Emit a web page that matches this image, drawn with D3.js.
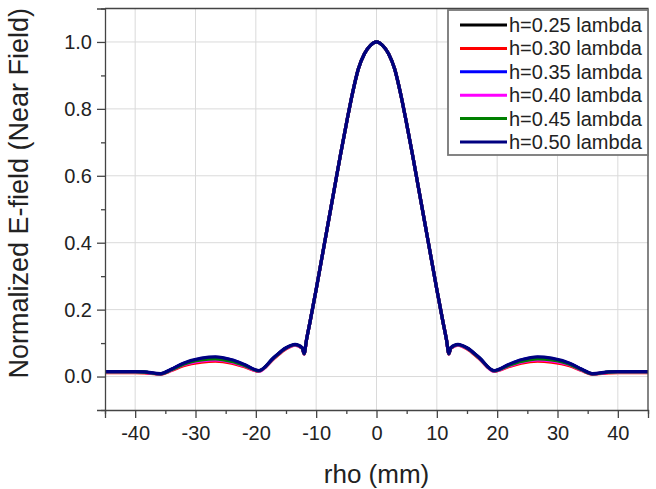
<!DOCTYPE html>
<html>
<head>
<meta charset="utf-8">
<script src="https://cdn.jsdelivr.net/npm/d3@7"></script>
<style>
  body { margin: 0; background: #fff; }
  text { font-family: Arial, "Liberation Sans", sans-serif; fill: #222; }
</style>
</head>
<body>
<div id="chart"></div>
<script>
// rho (mm) sample positions shared by all curves
const rho = [-45, -40, -38.5, -35.8, -34, -32, -29, -26.7, -24, -22, -19.5, -17, -15, -13.5, -12.3, -12, -11.6, -11,
  -10, -9, -8, -7, -6, -5, -4, -3, -2, -1, 0, 1, 2, 3, 4, 5, 6, 7, 8, 9, 10,
  11, 11.6, 12, 12.3, 13.5, 15, 17, 19.5, 22, 24, 26.7, 29, 32, 34, 35.8, 38.5, 40, 45];

const h025 = [0.014, 0.014, 0.013, 0.008, 0.021, 0.038, 0.052, 0.055, 0.047, 0.035, 0.017, 0.056, 0.085, 0.095, 0.085, 0.068, 0.11, 0.165,
  0.26, 0.36, 0.46, 0.56, 0.66, 0.755, 0.845, 0.92, 0.965, 0.99, 1.0, 0.99, 0.965, 0.92, 0.845, 0.755, 0.66, 0.56, 0.46, 0.36, 0.26,
  0.165, 0.11, 0.068, 0.085, 0.095, 0.085, 0.056, 0.017, 0.035, 0.047, 0.055, 0.052, 0.038, 0.021, 0.008, 0.013, 0.014, 0.014];
const h030 = [0.012, 0.012, 0.011, 0.007, 0.018, 0.032, 0.043, 0.046, 0.040, 0.030, 0.016, 0.054, 0.083, 0.094, 0.084, 0.067, 0.11, 0.165,
  0.26, 0.36, 0.46, 0.56, 0.66, 0.755, 0.845, 0.92, 0.965, 0.99, 1.0, 0.99, 0.965, 0.92, 0.845, 0.755, 0.66, 0.56, 0.46, 0.36, 0.26,
  0.165, 0.11, 0.067, 0.084, 0.094, 0.083, 0.054, 0.016, 0.030, 0.040, 0.046, 0.043, 0.032, 0.018, 0.007, 0.011, 0.012, 0.012];
const h035 = [0.014, 0.014, 0.013, 0.008, 0.022, 0.039, 0.054, 0.057, 0.049, 0.036, 0.017, 0.057, 0.085, 0.095, 0.085, 0.068, 0.11, 0.165,
  0.26, 0.36, 0.46, 0.56, 0.66, 0.755, 0.845, 0.92, 0.965, 0.99, 1.0, 0.99, 0.965, 0.92, 0.845, 0.755, 0.66, 0.56, 0.46, 0.36, 0.26,
  0.165, 0.11, 0.068, 0.085, 0.095, 0.085, 0.057, 0.017, 0.036, 0.049, 0.057, 0.054, 0.039, 0.022, 0.008, 0.013, 0.014, 0.014];
const h040 = [0.013, 0.013, 0.012, 0.008, 0.019, 0.035, 0.047, 0.050, 0.043, 0.032, 0.016, 0.055, 0.084, 0.094, 0.084, 0.067, 0.11, 0.165,
  0.26, 0.36, 0.46, 0.56, 0.66, 0.755, 0.845, 0.92, 0.965, 0.99, 1.0, 0.99, 0.965, 0.92, 0.845, 0.755, 0.66, 0.56, 0.46, 0.36, 0.26,
  0.165, 0.11, 0.067, 0.084, 0.094, 0.084, 0.055, 0.016, 0.032, 0.043, 0.050, 0.047, 0.035, 0.019, 0.008, 0.012, 0.013, 0.013];
const h045 = [0.014, 0.014, 0.013, 0.008, 0.020, 0.037, 0.050, 0.053, 0.045, 0.034, 0.017, 0.056, 0.085, 0.095, 0.085, 0.068, 0.11, 0.165,
  0.26, 0.36, 0.46, 0.56, 0.66, 0.755, 0.845, 0.92, 0.965, 0.99, 1.0, 0.99, 0.965, 0.92, 0.845, 0.755, 0.66, 0.56, 0.46, 0.36, 0.26,
  0.165, 0.11, 0.068, 0.085, 0.095, 0.085, 0.056, 0.017, 0.034, 0.045, 0.053, 0.050, 0.037, 0.020, 0.008, 0.013, 0.014, 0.014];
const h050 = [0.015, 0.015, 0.014, 0.009, 0.022, 0.040, 0.055, 0.059, 0.050, 0.037, 0.018, 0.057, 0.086, 0.096, 0.086, 0.069, 0.11, 0.165,
  0.26, 0.36, 0.46, 0.56, 0.66, 0.755, 0.845, 0.92, 0.965, 0.99, 1.0, 0.99, 0.965, 0.92, 0.845, 0.755, 0.66, 0.56, 0.46, 0.36, 0.26,
  0.165, 0.11, 0.069, 0.086, 0.096, 0.086, 0.057, 0.018, 0.037, 0.050, 0.059, 0.055, 0.040, 0.022, 0.009, 0.014, 0.015, 0.015];

const seriesNames = ["h=0.25 lambda", "h=0.30 lambda", "h=0.35 lambda", "h=0.40 lambda", "h=0.45 lambda", "h=0.50 lambda"];
const seriesValues = [h025, h030, h035, h040, h045, h050];
const seriesColors = ["#000000", "#ff0000", "#0000ff", "#ff00ff", "#008000", "#000080"];

const xTicks = [-40, -30, -20, -10, 0, 10, 20, 30, 40];
const xMinor = [-45, -35, -25, -15, -5, 5, 15, 25, 35, 45];
const yTicks = [0.0, 0.2, 0.4, 0.6, 0.8, 1.0];
const yMinor = [-0.1, 0.1, 0.3, 0.5, 0.7, 0.9, 1.1];

const W = 656, H = 489;
const plot = { left: 105, right: 648, top: 8.5, bottom: 410 };

const svg = d3.select("#chart").append("svg")
  .attr("width", W).attr("height", H);

const x = d3.scaleLinear().domain([-45, 45]).range([plot.left, plot.right]);
const y = d3.scaleLinear().domain([-0.1, 1.1]).range([plot.bottom, plot.top]);

// grid
const grid = svg.append("g").attr("stroke", "#dadada").attr("stroke-width", 1);
grid.selectAll("line.gx").data(xTicks).join("line")
  .attr("x1", d => x(d)).attr("x2", d => x(d))
  .attr("y1", plot.top).attr("y2", plot.bottom);
grid.selectAll("line.gy").data(yTicks).join("line")
  .attr("x1", plot.left).attr("x2", plot.right)
  .attr("y1", d => y(d)).attr("y2", d => y(d));

// curves
const line = d3.line()
  .x((d, i) => x(rho[i]))
  .y(d => y(d))
  .curve(d3.curveMonotoneX);

svg.append("g").selectAll("path").data(seriesValues).join("path")
  .attr("d", d => line(d))
  .attr("fill", "none")
  .attr("stroke", (d, i) => seriesColors[i])
  .attr("stroke-width", 3.2)
  .attr("stroke-linejoin", "round");

// frame (top/right)
svg.append("path")
  .attr("d", `M${plot.left},${plot.top}H${plot.right}V${plot.bottom}`)
  .attr("fill", "none").attr("stroke", "#444").attr("stroke-width", 1.3);

// axes -- plain hyphen for negatives, like the original
svg.append("g").attr("transform", `translate(0,${plot.bottom})`)
  .call(d3.axisBottom(x).tickValues(xTicks).tickSize(8).tickPadding(8).tickFormat(d => String(d)));
svg.append("g").attr("transform", `translate(0,${plot.bottom})`)
  .call(d3.axisBottom(x).tickValues(xMinor).tickSize(4).tickFormat(""))
  .call(g => g.select(".domain").remove());

svg.append("g").attr("transform", `translate(${plot.left},0)`)
  .call(d3.axisLeft(y).tickValues(yTicks).tickSize(8).tickPadding(5).tickFormat(d => d.toFixed(1)));
svg.append("g").attr("transform", `translate(${plot.left},0)`)
  .call(d3.axisLeft(y).tickValues(yMinor).tickSize(4).tickFormat(""))
  .call(g => g.select(".domain").remove());

svg.selectAll(".domain, .tick line").attr("stroke", "#444").attr("stroke-width", 1.3);
svg.selectAll(".tick text").attr("font-size", 20).attr("fill", "#222")
  .attr("font-family", "Arial, 'Liberation Sans', sans-serif");

// titles
svg.append("text")
  .attr("x", x(0)).attr("y", 483)
  .attr("text-anchor", "middle").attr("font-size", 26)
  .text("rho (mm)");
svg.append("text")
  .attr("transform", `translate(28,${(plot.top + plot.bottom) / 2 - 16}) rotate(-90)`)
  .attr("text-anchor", "middle").attr("font-size", 27)
  .text("Normalized E-field (Near Field)");

// legend
const lg = svg.append("g");
lg.append("rect")
  .attr("x", 448).attr("y", 10).attr("width", 200).attr("height", 145)
  .attr("fill", "#fff").attr("stroke", "#777").attr("stroke-width", 1.8);
const rows = lg.selectAll("g.row").data(seriesNames).join("g")
  .attr("transform", (d, i) => `translate(0,${25 + i * 23.4})`);
rows.append("line")
  .attr("x1", 460).attr("x2", 507)
  .attr("stroke", (d, i) => seriesColors[i]).attr("stroke-width", 3);
rows.append("text")
  .attr("x", 509).attr("dy", "0.35em")
  .attr("font-size", 20)
  .text(d => d);
</script>
</body>
</html>
